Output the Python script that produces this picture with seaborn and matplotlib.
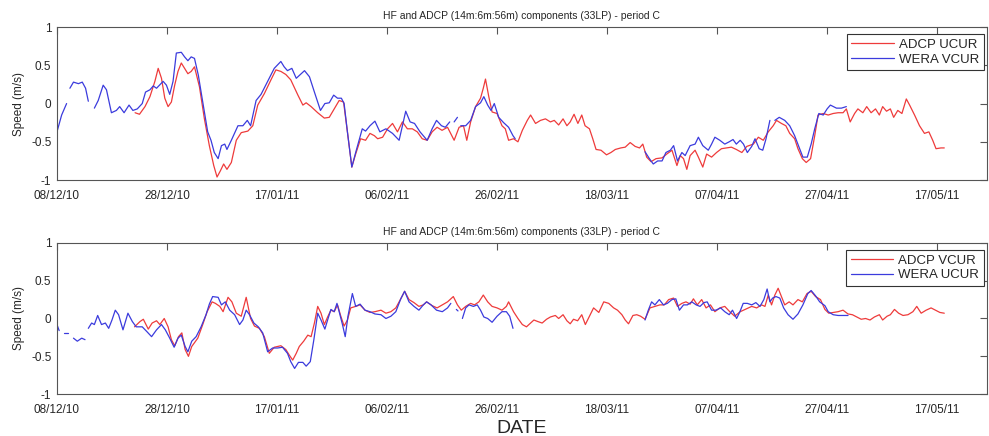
import numpy as np
import pandas as pd
import seaborn as sns
import matplotlib.pyplot as plt
import matplotlib.dates as mdates

nan = np.nan
START = pd.Timestamp('2010-12-08')

# (days since 08/12/10, speed m/s); nan marks a gap in the record
adcp_ucur = [
    (14.2, -0.12), (15.0, -0.14), (16.0, -0.04), (16.9, 0.09), (17.8, 0.29), (18.4, 0.46), (19.0, 0.33),
    (19.6, 0.07), (20.2, -0.04), (20.8, 0.02), (21.4, 0.24), (22.0, 0.42), (22.6, 0.53), (23.2, 0.46),
    (23.8, 0.39), (24.4, 0.42), (25.0, 0.48), (25.9, 0.22), (26.8, -0.2), (27.7, -0.55), (28.5, -0.81),
    (29.1, -0.96), (29.7, -0.88), (30.3, -0.79), (30.9, -0.86), (31.7, -0.77), (32.6, -0.48), (33.5, -0.38),
    (34.7, -0.36), (35.6, -0.29), (36.5, -0.02), (37.7, 0.13), (38.9, 0.31), (39.8, 0.44), (40.7, 0.42),
    (41.6, 0.38), (42.5, 0.31), (43.8, 0.11), (44.7, -0.02), (45.3, 0.01), (46.2, -0.04), (47.4, -0.12),
    (48.6, -0.19), (49.5, -0.18), (50.4, -0.07), (51.3, 0.04), (52.1, 0.02), (52.8, -0.37), (53.6, -0.83),
    (54.3, -0.66), (55.2, -0.46), (56.1, -0.48), (56.9, -0.39), (57.7, -0.42), (58.3, -0.46), (59.2, -0.44),
    (60.1, -0.33), (61.0, -0.26), (61.9, -0.37), (62.8, -0.24), (63.7, -0.33), (64.6, -0.33), (65.5, -0.37),
    (66.4, -0.46), (67.3, -0.48), (68.2, -0.37), (69.1, -0.31), (70.0, -0.35), (71.0, -0.31), (72.2, -0.48),
    (73.1, -0.31), (73.9, -0.29), (74.5, -0.48), (75.2, -0.24), (76.1, -0.04), (77.0, 0.07), (77.5, 0.2),
    (77.9, 0.32), (78.5, 0.09), (79.1, -0.11), (80.0, -0.13), (80.9, -0.29), (81.5, -0.33), (82.1, -0.48),
    (83.0, -0.46), (83.8, -0.5), (84.6, -0.35), (85.5, -0.22), (86.1, -0.15), (87.0, -0.26), (87.9, -0.22),
    (88.8, -0.2), (89.7, -0.24), (90.4, -0.22), (91.2, -0.28), (92.0, -0.2), (92.7, -0.29), (93.3, -0.24),
    (94.0, -0.14), (94.7, -0.26), (95.4, -0.15), (96.0, -0.29), (96.8, -0.33), (97.4, -0.46), (98.0, -0.6),
    (98.9, -0.61), (99.9, -0.67), (100.7, -0.64), (101.5, -0.6), (102.5, -0.58), (103.3, -0.57), (104.2, -0.51),
    (105.1, -0.56), (105.9, -0.58), (106.5, -0.53), (107.2, -0.7), (108.0, -0.76), (108.9, -0.72), (110.0, -0.71),
    (110.85, -0.66), (111.8, -0.61), (112.7, -0.81), (113.3, -0.68), (113.9, -0.72), (114.5, -0.86), (115.1, -0.68),
    (116.0, -0.61), (116.6, -0.7), (117.4, -0.83), (118.1, -0.66), (119.0, -0.7), (119.9, -0.64), (120.8, -0.59),
    (121.7, -0.58), (122.6, -0.57), (123.5, -0.6), (124.5, -0.64), (125.4, -0.56), (126.6, -0.53), (127.5, -0.44),
    (128.4, -0.48), (129.3, -0.37), (130.2, -0.29), (130.8, -0.22), (131.7, -0.26), (132.5, -0.29), (133.2, -0.39),
    (134.1, -0.46), (134.7, -0.59), (135.5, -0.72), (136.2, -0.77), (137.0, -0.72), (137.75, -0.42), (138.35, -0.15),
    (139.3, -0.13), (140.2, -0.15), (141.1, -0.13), (142.0, -0.12), (142.9, -0.12), (143.5, -0.07), (144.2, -0.24),
    (145.0, -0.13), (145.6, -0.07), (146.5, -0.12), (147.2, -0.04), (148.0, -0.12), (148.8, -0.07), (149.5, -0.15),
    (150.1, -0.04), (150.8, -0.1), (151.5, -0.07), (152.1, -0.18), (152.85, -0.09), (153.6, -0.13), (154.4, 0.06),
    (155.0, -0.02), (155.9, -0.15), (156.8, -0.29), (157.7, -0.39), (158.5, -0.37), (159.2, -0.48), (159.8, -0.59),
    (160.7, -0.58), (161.3, -0.58),
]

wera_vcur = [
    (0.0, -0.37), (0.85, -0.15), (1.75, 0.0), (2.0, nan), (2.35, 0.2), (3.0, 0.28), (3.9, 0.26), (4.6, 0.28),
    (5.2, 0.2), (5.7, 0.03), (6.0, nan), (6.8, -0.06), (7.5, 0.04), (8.4, 0.24), (9.0, 0.18), (9.9, -0.12),
    (10.8, -0.09), (11.4, -0.04), (12.2, -0.12), (13.1, -0.02), (13.8, -0.09), (14.6, -0.07), (15.5, 0.0),
    (16.1, 0.15), (16.9, 0.18), (17.5, 0.23), (18.1, 0.2), (19.3, 0.29), (19.9, 0.24), (20.5, 0.12), (21.1, 0.29),
    (21.7, 0.66), (22.6, 0.67), (23.2, 0.61), (23.8, 0.56), (24.4, 0.61), (25.0, 0.59), (25.7, 0.37), (26.5, 0.02),
    (27.4, -0.37), (28.0, -0.48), (28.6, -0.64), (29.3, -0.72), (29.9, -0.55), (30.5, -0.53), (30.9, -0.6),
    (31.7, -0.48), (32.9, -0.29), (33.8, -0.29), (34.6, -0.22), (35.2, -0.29), (36.2, 0.04), (37.1, 0.12),
    (38.3, 0.29), (39.5, 0.46), (40.7, 0.55), (41.3, 0.48), (41.9, 0.43), (42.7, 0.46), (43.5, 0.33), (44.1, 0.37),
    (45.0, 0.43), (45.9, 0.35), (46.8, 0.15), (47.9, -0.09), (48.7, 0.0), (49.5, 0.01), (50.3, 0.11), (51.0, 0.07),
    (51.7, 0.07), (52.2, 0.0), (52.8, -0.37), (53.6, -0.83), (54.3, -0.64), (55.5, -0.33), (56.1, -0.36),
    (56.9, -0.29), (57.8, -0.23), (58.7, -0.37), (59.8, -0.33), (61.0, -0.39), (62.2, -0.48), (62.8, -0.29),
    (63.4, -0.1), (64.2, -0.24), (65.0, -0.26), (66.0, -0.37), (67.3, -0.48), (68.2, -0.33), (69.0, -0.22),
    (69.9, -0.29), (70.6, -0.31), (71.4, -0.24), (71.8, nan), (72.2, -0.24), (72.8, -0.18), (73.1, nan),
    (73.4, -0.29), (74.3, -0.29), (75.2, -0.22), (76.1, -0.04), (77.0, 0.01), (77.6, 0.09), (78.3, -0.02),
    (78.9, -0.09), (79.5, 0.0), (80.3, -0.18), (81.2, -0.25), (82.1, -0.31), (82.9, -0.42), (83.3, -0.46),
    (84.0, nan), (106.9, -0.63), (107.7, -0.72), (108.4, -0.79), (109.2, -0.75), (110.0, -0.75), (110.7, -0.64),
    (111.5, -0.61), (112.1, -0.55), (112.8, -0.75), (113.6, -0.64), (114.2, -0.68), (115.1, -0.55), (116.0, -0.53),
    (116.6, -0.44), (117.4, -0.55), (118.4, -0.61), (119.0, -0.53), (119.6, -0.44), (120.5, -0.48), (121.4, -0.53),
    (122.2, -0.5), (122.9, -0.47), (123.5, -0.53), (124.2, -0.48), (124.8, -0.53), (125.5, -0.64), (126.3, -0.56),
    (126.9, -0.46), (127.65, -0.59), (128.3, -0.61), (128.9, -0.46), (129.6, -0.22), (130.0, nan), (130.5, -0.22),
    (131.3, -0.18), (132.3, -0.22), (133.2, -0.29), (134.1, -0.42), (134.9, -0.57), (135.6, -0.7), (136.4, -0.7),
    (137.1, -0.53), (137.75, -0.33), (138.5, -0.13), (139.3, -0.15), (140.0, -0.07), (140.6, -0.02), (141.7, -0.06),
    (142.6, -0.06), (143.5, -0.04),
]

adcp_vcur = [
    (14.1, -0.11), (15.1, -0.04), (15.7, -0.01), (16.6, -0.14), (17.3, -0.06), (18.1, -0.03), (18.7, -0.08),
    (19.5, 0.0), (20.2, -0.11), (20.8, -0.28), (21.4, -0.36), (22.1, -0.24), (22.7, -0.19), (23.3, -0.41),
    (23.9, -0.5), (24.5, -0.37), (25.6, -0.26), (26.5, -0.08), (27.3, 0.09), (28.2, 0.22), (28.8, 0.2),
    (29.6, 0.16), (30.2, 0.09), (31.1, 0.28), (31.8, 0.22), (32.6, 0.07), (33.5, 0.03), (34.4, 0.28), (35.2, 0.0),
    (35.9, -0.1), (36.8, -0.13), (37.7, -0.24), (38.6, -0.46), (39.5, -0.38), (40.7, -0.36), (41.6, -0.41),
    (42.2, -0.48), (42.85, -0.55), (43.5, -0.46), (44.05, -0.37), (44.85, -0.3), (45.6, -0.22), (46.2, -0.24),
    (46.8, -0.06), (47.4, 0.16), (48.0, 0.07), (48.6, -0.08), (49.2, 0.02), (49.8, 0.11), (50.4, 0.09),
    (51.0, 0.18), (51.6, 0.03), (52.2, -0.1), (52.8, -0.02), (53.4, 0.14), (54.3, 0.16), (55.1, 0.18),
    (56.0, 0.11), (56.9, 0.08), (57.8, 0.09), (58.9, 0.11), (59.8, 0.07), (60.7, 0.09), (61.6, 0.14), (62.5, 0.26),
    (63.2, 0.36), (64.0, 0.25), (64.9, 0.21), (65.8, 0.16), (66.6, 0.18), (67.2, 0.22), (68.2, 0.17), (69.1, 0.14),
    (70.05, 0.18), (71.0, 0.22), (72.05, 0.29), (72.8, 0.18), (73.5, 0.11), (74.3, 0.16), (75.2, 0.2), (75.9, 0.18),
    (76.7, 0.22), (77.5, 0.31), (78.3, 0.22), (79.1, 0.16), (80.0, 0.14), (80.9, 0.11), (81.7, 0.16), (82.1, 0.22),
    (83.0, 0.09), (83.8, 0.0), (84.6, -0.08), (85.35, -0.11), (86.1, -0.06), (86.7, -0.02), (87.4, -0.04),
    (88.2, -0.06), (89.0, -0.01), (89.7, 0.02), (90.6, 0.04), (91.2, 0.0), (92.0, 0.05), (92.7, -0.03),
    (93.3, -0.07), (93.9, -0.01), (94.65, -0.03), (95.4, 0.05), (96.05, -0.08), (96.8, 0.03), (97.55, 0.14),
    (98.5, 0.08), (99.4, 0.22), (100.3, 0.2), (101.2, 0.14), (101.9, 0.11), (102.7, 0.05), (103.3, -0.02),
    (103.9, -0.07), (104.7, 0.04), (105.4, 0.05), (106.1, 0.03), (106.9, -0.01), (107.8, 0.14), (108.7, 0.16),
    (109.6, 0.18), (110.4, 0.18), (111.2, 0.25), (112.1, 0.27), (112.8, 0.16), (113.6, 0.2), (114.35, 0.22),
    (115.1, 0.19), (115.7, 0.26), (116.4, 0.18), (117.2, 0.25), (118.0, 0.14), (118.8, 0.18), (119.6, 0.09),
    (120.5, 0.14), (121.4, 0.16), (122.3, 0.09), (123.2, 0.03), (124.2, 0.09), (125.1, 0.12), (125.7, 0.14),
    (126.3, 0.16), (127.2, 0.14), (128.1, 0.18), (128.7, 0.16), (129.3, 0.31), (129.9, 0.18), (130.5, 0.31),
    (131.1, 0.4), (131.7, 0.29), (132.3, 0.18), (133.1, 0.22), (133.8, 0.18), (134.7, 0.25), (135.5, 0.22),
    (136.35, 0.33), (137.1, 0.36), (137.9, 0.29), (138.8, 0.25), (139.6, 0.12), (140.3, 0.07), (141.2, 0.08),
    (142.0, 0.09), (142.9, 0.11), (143.8, 0.06), (144.6, 0.05), (145.4, 0.02), (146.2, -0.01), (147.0, 0.0),
    (147.8, -0.02), (148.6, 0.02), (149.5, 0.05), (150.1, -0.02), (150.9, 0.03), (151.5, 0.05), (152.25, 0.12),
    (153.0, 0.07), (153.8, 0.04), (154.7, 0.05), (155.6, 0.09), (156.3, 0.16), (157.1, 0.07), (158.0, 0.11),
    (158.9, 0.14), (159.7, 0.11), (160.5, 0.08), (161.3, 0.07),
]

wera_ucur = [
    (0.0, -0.08), (0.4, -0.16), (0.8, nan), (1.3, -0.19), (2.05, -0.19), (2.4, nan), (3.0, -0.26), (3.7, -0.3),
    (4.5, -0.26), (5.1, -0.28), (5.4, nan), (5.7, -0.13), (6.3, -0.06), (6.8, -0.08), (7.4, 0.04), (8.1, -0.08),
    (8.8, -0.06), (9.4, -0.13), (10.0, -0.02), (10.6, 0.11), (11.2, 0.05), (12.0, -0.15), (12.9, 0.07),
    (13.7, -0.04), (14.4, -0.11), (15.5, -0.11), (16.3, -0.17), (17.2, -0.24), (18.1, -0.15), (19.0, -0.08),
    (19.7, -0.15), (20.5, -0.26), (21.3, -0.38), (22.0, -0.26), (22.6, -0.22), (23.3, -0.37), (23.8, -0.44),
    (24.5, -0.3), (25.3, -0.24), (26.2, -0.11), (27.1, 0.05), (27.7, 0.19), (28.3, 0.29), (29.3, 0.28),
    (29.9, 0.18), (30.6, 0.22), (31.4, 0.11), (32.3, 0.05), (33.2, -0.08), (33.8, -0.02), (34.4, 0.11),
    (35.0, 0.05), (35.8, -0.06), (36.6, -0.11), (37.4, -0.19), (38.3, -0.44), (39.2, -0.39), (40.1, -0.39),
    (41.0, -0.38), (41.9, -0.46), (42.5, -0.57), (43.2, -0.66), (43.9, -0.58), (44.7, -0.58), (45.3, -0.63),
    (46.05, -0.57), (46.7, -0.28), (47.4, 0.07), (48.0, -0.02), (48.7, -0.14), (49.2, -0.02), (49.8, 0.12),
    (50.4, 0.09), (50.9, 0.2), (51.3, 0.09), (51.9, -0.08), (52.4, -0.24), (52.9, 0.03), (53.7, 0.33),
    (54.3, 0.16), (55.1, 0.19), (56.0, 0.11), (56.9, 0.09), (57.8, 0.06), (58.9, 0.05), (59.8, 0.0), (60.7, 0.03),
    (61.6, 0.09), (62.5, 0.26), (63.2, 0.36), (64.0, 0.22), (64.9, 0.16), (65.8, 0.11), (66.6, 0.18), (67.2, 0.22),
    (68.0, 0.18), (69.0, 0.11), (70.05, 0.09), (71.0, 0.14), (71.6, 0.2), (72.2, nan), (72.6, 0.12), (72.9, 0.1),
    (73.2, nan), (73.7, 0.0), (74.3, 0.14), (74.9, 0.18), (75.7, 0.16), (76.4, 0.18), (77.0, 0.11), (77.6, 0.02),
    (78.3, 0.0), (79.1, -0.05), (80.0, 0.03), (80.9, 0.09), (81.7, 0.09), (82.3, 0.03), (82.9, -0.13), (83.5, nan),
    (106.9, -0.02), (107.5, 0.11), (108.1, 0.22), (108.7, 0.18), (109.5, 0.25), (110.25, 0.18), (110.95, 0.2),
    (111.8, 0.25), (112.5, 0.26), (113.15, 0.11), (113.9, 0.18), (114.6, 0.18), (115.4, 0.22), (116.2, 0.18),
    (116.9, 0.16), (117.6, 0.21), (118.2, 0.22), (119.0, 0.11), (119.8, 0.11), (120.65, 0.14), (121.4, 0.09),
    (122.2, 0.05), (122.8, 0.11), (123.55, 0.0), (124.15, 0.09), (124.75, 0.2), (125.5, 0.2), (126.3, 0.18),
    (127.05, 0.21), (127.8, 0.16), (128.5, 0.25), (129.1, 0.39), (129.6, 0.22), (130.1, 0.27), (130.7, 0.29),
    (131.4, 0.27), (132.1, 0.14), (132.9, 0.05), (133.8, -0.01), (134.7, 0.06), (135.6, 0.18), (136.5, 0.33),
    (137.1, 0.37), (137.9, 0.3), (138.65, 0.22), (139.6, 0.17), (140.2, 0.09), (141.1, 0.05), (142.0, 0.04),
    (142.9, 0.04), (143.8, 0.04),
]

TITLE = 'HF and ADCP (14m:6m:56m) components (33LP) - period C'
TICK_DAYS = [0, 20, 40, 60, 80, 100, 120, 140, 160]
RED = '#ee3b3b'
BLUE = '#3b3bdd'


def to_frame(series):
    frames = []
    for name, pts in series.items():
        df = pd.DataFrame(pts, columns=['day', 'speed'])
        df['seg'] = df['speed'].isna().cumsum()
        df = df.dropna()
        df['date'] = START + pd.to_timedelta(df['day'], unit='D')
        df['series'] = name
        frames.append(df)
    return pd.concat(frames, ignore_index=True)


def draw_panel(ax, series, show_date):
    data = to_frame(series)
    names = list(series.keys())
    sns.lineplot(data=data, x='date', y='speed', hue='series', units='seg', estimator=None,
                 hue_order=names, palette=[RED, BLUE], linewidth=0.9, ax=ax, sort=False)
    ax.set_xlim(START, START + pd.Timedelta(days=169))
    ax.set_ylim(-1, 1)
    ax.set_yticks([-1, -0.5, 0, 0.5, 1])
    ax.set_yticklabels(['-1', '-0.5', '0', '0.5', '1'])
    ax.set_xticks([START + pd.Timedelta(days=d) for d in TICK_DAYS])
    ax.xaxis.set_major_formatter(mdates.DateFormatter('%d/%m/%y'))
    ax.tick_params(direction='in', length=5, width=0.8, color='#555555', labelsize=8.5,
                   top=True, right=True)
    ax.tick_params(axis='x', pad=7)
    ax.tick_params(axis='y', pad=4)
    for sp in ax.spines.values():
        sp.set_color('#555555')
        sp.set_linewidth(0.8)
    ax.set_title(TITLE, fontsize=7.5, pad=6)
    ax.set_ylabel('Speed (m/s)', fontsize=8.5, labelpad=4)
    ax.set_xlabel('DATE' if show_date else '', fontsize=14, labelpad=3)
    ax.grid(False)
    leg = ax.legend(loc='upper right', bbox_to_anchor=(0.997, 0.955), borderaxespad=0, fontsize=9.5,
                    frameon=True, fancybox=False, framealpha=1, edgecolor='#333333',
                    handlelength=3.2, handletextpad=0.4, labelspacing=0.2, borderpad=0.35)
    leg.get_frame().set_linewidth(0.8)


sns.set_style('white')
plt.rcParams['font.family'] = ['Liberation Sans', 'DejaVu Sans']

fig = plt.figure(figsize=(9.89, 4.36), dpi=100)
ax1 = fig.add_axes([0.0576, 0.587, 0.94, 0.351])
ax2 = fig.add_axes([0.0576, 0.096, 0.94, 0.347])

draw_panel(ax1, {'ADCP UCUR': adcp_ucur, 'WERA VCUR': wera_vcur}, False)
draw_panel(ax2, {'ADCP VCUR': adcp_vcur, 'WERA UCUR': wera_ucur}, True)

fig.savefig('out.png', dpi=100)
plt.close(fig)
